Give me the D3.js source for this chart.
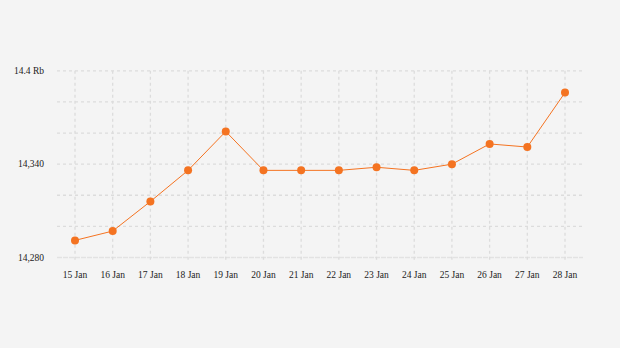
<!DOCTYPE html>
<html>
<head>
<meta charset="utf-8">
<script src="https://cdn.jsdelivr.net/npm/d3@7"></script>
<style>
  body { margin: 0; background: #f4f4f4; }
  svg { display: block; }
</style>
</head>
<body>
<div id="chart"></div>
<script>
var dates = ['15 Jan', '16 Jan', '17 Jan', '18 Jan', '19 Jan', '20 Jan', '21 Jan',
             '22 Jan', '23 Jan', '24 Jan', '25 Jan', '26 Jan', '27 Jan', '28 Jan'];
var prices = [14291, 14297, 14316, 14336, 14361, 14336, 14336,
              14336, 14338, 14336, 14340, 14353, 14351, 14386];
var grid_values = [14300, 14320, 14340, 14360, 14380, 14400];
var tick_values = [14280, 14340, 14400];
var tick_labels = {14280: '14,280', 14340: '14,340', 14400: '14.4 Rb'};

var width = 620, height = 348;
var orange = '#f47321';

var svg = d3.select('#chart').append('svg')
    .attr('width', width)
    .attr('height', height);

svg.append('rect')
    .attr('width', width)
    .attr('height', height)
    .attr('fill', '#f4f4f4');

var x = d3.scalePoint().domain(dates).range([75, 565]);
var y = d3.scaleLinear().domain([14280, 14400]).range([257.5, 70.8]);

// horizontal grid
svg.append('g').selectAll('line')
    .data(grid_values)
    .enter().append('line')
    .attr('x1', 57)
    .attr('x2', 583)
    .attr('y1', function(d) { return y(d); })
    .attr('y2', function(d) { return y(d); })
    .style('stroke', '#dcdcdc')
    .style('stroke-width', 1.3)
    .style('stroke-dasharray', '3,3');

// base line
svg.append('line')
    .attr('x1', 57)
    .attr('x2', 583)
    .attr('y1', y(14280))
    .attr('y2', y(14280))
    .style('stroke', '#e2e2e2')
    .style('stroke-width', 1.5)
    .style('stroke-dasharray', '5,1');

// vertical grid
svg.append('g').selectAll('line')
    .data(dates)
    .enter().append('line')
    .attr('x1', function(d) { return x(d); })
    .attr('x2', function(d) { return x(d); })
    .attr('y1', y(14400))
    .attr('y2', y(14280) + 4)
    .style('stroke', '#dcdcdc')
    .style('stroke-width', 1.3)
    .style('stroke-dasharray', '3,3');

// y labels
svg.append('g').selectAll('text')
    .data(tick_values)
    .enter().append('text')
    .attr('x', 44)
    .attr('y', function(d) { return y(d) + 3; })
    .attr('text-anchor', 'end')
    .style('font-family', 'Liberation Serif, serif')
    .style('font-size', '9.5px')
    .style('fill', '#222')
    .text(function(d) { return tick_labels[d]; });

// x labels
svg.append('g').selectAll('text')
    .data(dates)
    .enter().append('text')
    .attr('x', function(d) { return x(d); })
    .attr('y', 278)
    .attr('text-anchor', 'middle')
    .style('font-family', 'Liberation Serif, serif')
    .style('font-size', '9.5px')
    .style('fill', '#222')
    .text(function(d) { return d; });

var line = d3.line()
    .x(function(d, i) { return x(dates[i]); })
    .y(function(d) { return y(d); });

svg.append('path')
    .datum(prices)
    .attr('d', line)
    .style('fill', 'none')
    .style('stroke', orange)
    .style('stroke-width', 1);

svg.append('g').selectAll('circle')
    .data(prices)
    .enter().append('circle')
    .attr('cx', function(d, i) { return x(dates[i]); })
    .attr('cy', function(d) { return y(d); })
    .attr('r', 4)
    .attr('fill', orange);
</script>
</body>
</html>
